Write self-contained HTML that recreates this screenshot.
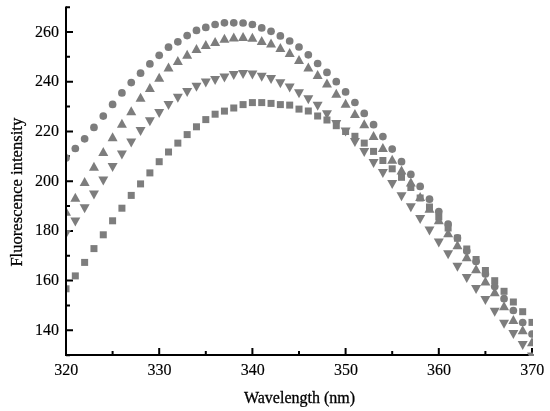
<!DOCTYPE html>
<html><head><meta charset="utf-8"><style>
html,body{margin:0;padding:0;background:#fff;}
body{width:550px;height:411px;overflow:hidden;}
svg{display:block;}
text{font-family:"Liberation Serif",serif;font-size:16px;fill:#000;stroke:#000;stroke-width:0.3px;}
text.t{stroke-width:0.15px;}
</style></head><body>
<svg width="550" height="411" viewBox="0 0 550 411">
<rect width="550" height="411" fill="#fff"/>
<defs><clipPath id="cp"><rect x="67" y="0" width="466" height="356"/></clipPath></defs>
<path d="M65 355H533.5" stroke="#000" stroke-width="2" fill="none"/>
<path d="M66 355.18H70M66 330.32H73M66 305.46H70M66 280.6H73M66 255.74H70M66 230.88H73M66 206.02H70M66 181.16H73M66 156.3H70M66 131.44H73M66 106.58H70M66 81.72H73M66 56.86H70M66 32H73M66 7.14H70M66 355V348M112.6 355V351M159.2 355V348M205.8 355V351M252.4 355V348M299 355V351M345.6 355V348M392.2 355V351M438.8 355V348M485.4 355V351M532 355V348" stroke="#000" stroke-width="2" fill="none"/>
<g clip-path="url(#cp)" fill="#7d7d7d">
<rect x="62.5" y="285.3" width="7" height="7"/>
<rect x="71.82" y="272.4" width="7" height="7"/>
<rect x="81.14" y="258.9" width="7" height="7"/>
<rect x="90.46" y="245.1" width="7" height="7"/>
<rect x="99.78" y="231.3" width="7" height="7"/>
<rect x="109.1" y="217.3" width="7" height="7"/>
<rect x="118.42" y="204.7" width="7" height="7"/>
<rect x="127.74" y="191.9" width="7" height="7"/>
<rect x="137.06" y="180.4" width="7" height="7"/>
<rect x="146.38" y="169.4" width="7" height="7"/>
<rect x="155.7" y="158.2" width="7" height="7"/>
<rect x="165.02" y="148.5" width="7" height="7"/>
<rect x="174.34" y="139.6" width="7" height="7"/>
<rect x="183.66" y="131.1" width="7" height="7"/>
<rect x="192.98" y="123.3" width="7" height="7"/>
<rect x="202.3" y="116.1" width="7" height="7"/>
<rect x="211.62" y="110.7" width="7" height="7"/>
<rect x="220.94" y="107.6" width="7" height="7"/>
<rect x="230.26" y="104.5" width="7" height="7"/>
<rect x="239.58" y="101.1" width="7" height="7"/>
<rect x="248.9" y="99.1" width="7" height="7"/>
<rect x="258.22" y="99.1" width="7" height="7"/>
<rect x="267.54" y="99.9" width="7" height="7"/>
<rect x="276.86" y="101.1" width="7" height="7"/>
<rect x="286.18" y="101.6" width="7" height="7"/>
<rect x="295.5" y="105.6" width="7" height="7"/>
<rect x="304.82" y="107.5" width="7" height="7"/>
<rect x="314.14" y="112.5" width="7" height="7"/>
<rect x="323.46" y="116.5" width="7" height="7"/>
<rect x="332.78" y="122.2" width="7" height="7"/>
<rect x="342.1" y="128" width="7" height="7"/>
<rect x="351.42" y="132.8" width="7" height="7"/>
<rect x="360.74" y="139.6" width="7" height="7"/>
<rect x="370.06" y="147.9" width="7" height="7"/>
<rect x="379.38" y="157" width="7" height="7"/>
<rect x="388.7" y="165.3" width="7" height="7"/>
<rect x="398.02" y="173.8" width="7" height="7"/>
<rect x="407.34" y="184" width="7" height="7"/>
<rect x="416.66" y="194.5" width="7" height="7"/>
<rect x="425.98" y="203.5" width="7" height="7"/>
<rect x="435.3" y="213.5" width="7" height="7"/>
<rect x="444.62" y="224.5" width="7" height="7"/>
<rect x="453.94" y="234.7" width="7" height="7"/>
<rect x="463.26" y="245.5" width="7" height="7"/>
<rect x="472.58" y="256" width="7" height="7"/>
<rect x="481.9" y="267" width="7" height="7"/>
<rect x="491.22" y="277.2" width="7" height="7"/>
<rect x="500.54" y="287.8" width="7" height="7"/>
<rect x="509.86" y="298.5" width="7" height="7"/>
<rect x="519.18" y="308.2" width="7" height="7"/>
<rect x="528.5" y="318.9" width="7" height="7"/>
<path d="M61 229.9H71L66 238.9Z"/>
<path d="M70.32 217.6H80.32L75.32 226.6Z"/>
<path d="M79.64 204.2H89.64L84.64 213.2Z"/>
<path d="M88.96 190.4H98.96L93.96 199.4Z"/>
<path d="M98.28 176.6H108.28L103.28 185.6Z"/>
<path d="M107.6 163.1H117.6L112.6 172.1Z"/>
<path d="M116.92 150.5H126.92L121.92 159.5Z"/>
<path d="M126.24 138.4H136.24L131.24 147.4Z"/>
<path d="M135.56 126.9H145.56L140.56 135.9Z"/>
<path d="M144.88 117.2H154.88L149.88 126.2Z"/>
<path d="M154.2 109H164.2L159.2 118Z"/>
<path d="M163.52 101H173.52L168.52 110Z"/>
<path d="M172.84 93.7H182.84L177.84 102.7Z"/>
<path d="M182.16 87.9H192.16L187.16 96.9Z"/>
<path d="M191.48 82.7H201.48L196.48 91.7Z"/>
<path d="M200.8 78.6H210.8L205.8 87.6Z"/>
<path d="M210.12 75.9H220.12L215.12 84.9Z"/>
<path d="M219.44 73.5H229.44L224.44 82.5Z"/>
<path d="M228.76 71H238.76L233.76 80Z"/>
<path d="M238.08 69.9H248.08L243.08 78.9Z"/>
<path d="M247.4 70.6H257.4L252.4 79.6Z"/>
<path d="M256.72 72.8H266.72L261.72 81.8Z"/>
<path d="M266.04 75H276.04L271.04 84Z"/>
<path d="M275.36 79.3H285.36L280.36 88.3Z"/>
<path d="M284.68 83.5H294.68L289.68 92.5Z"/>
<path d="M294 89.2H304L299 98.2Z"/>
<path d="M303.32 95.3H313.32L308.32 104.3Z"/>
<path d="M312.64 101.8H322.64L317.64 110.8Z"/>
<path d="M321.96 110.2H331.96L326.96 119.2Z"/>
<path d="M331.28 120.1H341.28L336.28 129.1Z"/>
<path d="M340.6 127.6H350.6L345.6 136.6Z"/>
<path d="M349.92 137.9H359.92L354.92 146.9Z"/>
<path d="M359.24 147.9H369.24L364.24 156.9Z"/>
<path d="M368.56 158.9H378.56L373.56 167.9Z"/>
<path d="M377.88 169H387.88L382.88 178Z"/>
<path d="M387.2 180.1H397.2L392.2 189.1Z"/>
<path d="M396.52 192.3H406.52L401.52 201.3Z"/>
<path d="M405.84 203.2H415.84L410.84 212.2Z"/>
<path d="M415.16 214.9H425.16L420.16 223.9Z"/>
<path d="M424.48 226.4H434.48L429.48 235.4Z"/>
<path d="M433.8 238.4H443.8L438.8 247.4Z"/>
<path d="M443.12 250.2H453.12L448.12 259.2Z"/>
<path d="M452.44 262.7H462.44L457.44 271.7Z"/>
<path d="M461.76 274.1H471.76L466.76 283.1Z"/>
<path d="M471.08 285.1H481.08L476.08 294.1Z"/>
<path d="M480.4 296.1H490.4L485.4 305.1Z"/>
<path d="M489.72 307.7H499.72L494.72 316.7Z"/>
<path d="M499.04 319.7H509.04L504.04 328.7Z"/>
<path d="M508.36 329.9H518.36L513.36 338.9Z"/>
<path d="M517.68 341H527.68L522.68 350Z"/>
<path d="M527 352.5H537L532 361.5Z"/>
<path d="M61 215.8H71L66 206.8Z"/>
<path d="M70.32 201.8H80.32L75.32 192.8Z"/>
<path d="M79.64 185.9H89.64L84.64 176.9Z"/>
<path d="M88.96 170.7H98.96L93.96 161.7Z"/>
<path d="M98.28 156.1H108.28L103.28 147.1Z"/>
<path d="M107.6 141.3H117.6L112.6 132.3Z"/>
<path d="M116.92 127.8H126.92L121.92 118.8Z"/>
<path d="M126.24 115.3H136.24L131.24 106.3Z"/>
<path d="M135.56 101.8H145.56L140.56 92.8Z"/>
<path d="M144.88 91.9H154.88L149.88 82.9Z"/>
<path d="M154.2 81.7H164.2L159.2 72.7Z"/>
<path d="M163.52 71.5H173.52L168.52 62.5Z"/>
<path d="M172.84 65H182.84L177.84 56Z"/>
<path d="M182.16 58.8H192.16L187.16 49.8Z"/>
<path d="M191.48 53H201.48L196.48 44Z"/>
<path d="M200.8 49H210.8L205.8 40Z"/>
<path d="M210.12 46.1H220.12L215.12 37.1Z"/>
<path d="M219.44 42.8H229.44L224.44 33.8Z"/>
<path d="M228.76 41.5H238.76L233.76 32.5Z"/>
<path d="M238.08 41.1H248.08L243.08 32.1Z"/>
<path d="M247.4 41.8H257.4L252.4 32.8Z"/>
<path d="M256.72 44.9H266.72L261.72 35.9Z"/>
<path d="M266.04 47.4H276.04L271.04 38.4Z"/>
<path d="M275.36 52H285.36L280.36 43Z"/>
<path d="M284.68 57.1H294.68L289.68 48.1Z"/>
<path d="M294 63.9H304L299 54.9Z"/>
<path d="M303.32 71.4H313.32L308.32 62.4Z"/>
<path d="M312.64 79.1H322.64L317.64 70.1Z"/>
<path d="M321.96 87.6H331.96L326.96 78.6Z"/>
<path d="M331.28 97.7H341.28L336.28 88.7Z"/>
<path d="M340.6 107.7H350.6L345.6 98.7Z"/>
<path d="M349.92 118H359.92L354.92 109Z"/>
<path d="M359.24 128.2H369.24L364.24 119.2Z"/>
<path d="M368.56 140H378.56L373.56 131Z"/>
<path d="M377.88 151.9H387.88L382.88 142.9Z"/>
<path d="M387.2 163.7H397.2L392.2 154.7Z"/>
<path d="M396.52 174.6H406.52L401.52 165.6Z"/>
<path d="M405.84 186.6H415.84L410.84 177.6Z"/>
<path d="M415.16 200.9H425.16L420.16 191.9Z"/>
<path d="M424.48 212.8H434.48L429.48 203.8Z"/>
<path d="M433.8 224.2H443.8L438.8 215.2Z"/>
<path d="M443.12 237.2H453.12L448.12 228.2Z"/>
<path d="M452.44 249.2H462.44L457.44 240.2Z"/>
<path d="M461.76 261.2H471.76L466.76 252.2Z"/>
<path d="M471.08 273.2H481.08L476.08 264.2Z"/>
<path d="M480.4 285.5H490.4L485.4 276.5Z"/>
<path d="M489.72 296.2H499.72L494.72 287.2Z"/>
<path d="M499.04 310.2H509.04L504.04 301.2Z"/>
<path d="M508.36 323.9H518.36L513.36 314.9Z"/>
<path d="M517.68 334.2H527.68L522.68 325.2Z"/>
<path d="M527 346.2H537L532 337.2Z"/>
<ellipse cx="66" cy="157.9" rx="3.85" ry="3.85"/>
<ellipse cx="75.32" cy="148.5" rx="3.85" ry="3.85"/>
<ellipse cx="84.64" cy="138.8" rx="3.85" ry="3.85"/>
<ellipse cx="93.96" cy="127.4" rx="3.85" ry="3.85"/>
<ellipse cx="103.28" cy="116.1" rx="3.85" ry="3.85"/>
<ellipse cx="112.6" cy="104.4" rx="3.85" ry="3.85"/>
<ellipse cx="121.92" cy="92.9" rx="3.85" ry="3.85"/>
<ellipse cx="131.24" cy="82.6" rx="3.85" ry="3.85"/>
<ellipse cx="140.56" cy="73.2" rx="3.85" ry="3.85"/>
<ellipse cx="149.88" cy="63.9" rx="3.85" ry="3.85"/>
<ellipse cx="159.2" cy="55.3" rx="3.85" ry="3.85"/>
<ellipse cx="168.52" cy="47.2" rx="3.85" ry="3.85"/>
<ellipse cx="177.84" cy="41.8" rx="3.85" ry="3.85"/>
<ellipse cx="187.16" cy="35.6" rx="3.85" ry="3.85"/>
<ellipse cx="196.48" cy="30.4" rx="3.85" ry="3.85"/>
<ellipse cx="205.8" cy="27.4" rx="3.85" ry="3.85"/>
<ellipse cx="215.12" cy="24.5" rx="3.85" ry="3.85"/>
<ellipse cx="224.44" cy="22.8" rx="3.85" ry="3.85"/>
<ellipse cx="233.76" cy="22.8" rx="3.85" ry="3.85"/>
<ellipse cx="243.08" cy="23" rx="3.85" ry="3.85"/>
<ellipse cx="252.4" cy="24.5" rx="3.85" ry="3.85"/>
<ellipse cx="261.72" cy="27.9" rx="3.85" ry="3.85"/>
<ellipse cx="271.04" cy="31.3" rx="3.85" ry="3.85"/>
<ellipse cx="280.36" cy="35.9" rx="3.85" ry="3.85"/>
<ellipse cx="289.68" cy="41" rx="3.85" ry="3.85"/>
<ellipse cx="299" cy="47" rx="3.85" ry="3.85"/>
<ellipse cx="308.32" cy="54.8" rx="3.85" ry="3.85"/>
<ellipse cx="317.64" cy="63.5" rx="3.85" ry="3.85"/>
<ellipse cx="326.96" cy="72.4" rx="3.85" ry="3.85"/>
<ellipse cx="336.28" cy="81.7" rx="3.85" ry="3.85"/>
<ellipse cx="345.6" cy="91.9" rx="3.85" ry="3.85"/>
<ellipse cx="354.92" cy="102.5" rx="3.85" ry="3.85"/>
<ellipse cx="364.24" cy="113.4" rx="3.85" ry="3.85"/>
<ellipse cx="373.56" cy="124.7" rx="3.85" ry="3.85"/>
<ellipse cx="382.88" cy="136.6" rx="3.85" ry="3.85"/>
<ellipse cx="392.2" cy="149.1" rx="3.85" ry="3.85"/>
<ellipse cx="401.52" cy="161.7" rx="3.85" ry="3.85"/>
<ellipse cx="410.84" cy="174.4" rx="3.85" ry="3.85"/>
<ellipse cx="420.16" cy="186.4" rx="3.85" ry="3.85"/>
<ellipse cx="429.48" cy="199.2" rx="3.85" ry="3.85"/>
<ellipse cx="438.8" cy="211.5" rx="3.85" ry="3.85"/>
<ellipse cx="448.12" cy="224" rx="3.85" ry="3.85"/>
<ellipse cx="457.44" cy="237.9" rx="3.85" ry="3.85"/>
<ellipse cx="466.76" cy="251" rx="3.85" ry="3.85"/>
<ellipse cx="476.08" cy="261.5" rx="3.85" ry="3.85"/>
<ellipse cx="485.4" cy="274" rx="3.85" ry="3.85"/>
<ellipse cx="494.72" cy="286.5" rx="3.85" ry="3.85"/>
<ellipse cx="504.04" cy="298.7" rx="3.85" ry="3.85"/>
<ellipse cx="513.36" cy="310.5" rx="3.85" ry="3.85"/>
<ellipse cx="522.68" cy="322.5" rx="3.85" ry="3.85"/>
<ellipse cx="532" cy="334" rx="3.85" ry="3.85"/>
</g>
<path d="M66 6.5V356" stroke="#000" stroke-width="2" fill="none"/>
<g style="filter:grayscale(1)">
<text x="59" y="334.82" text-anchor="end" class="t">140</text>
<text x="59" y="285.1" text-anchor="end" class="t">160</text>
<text x="59" y="235.38" text-anchor="end" class="t">180</text>
<text x="59" y="185.66" text-anchor="end" class="t">200</text>
<text x="59" y="135.94" text-anchor="end" class="t">220</text>
<text x="59" y="86.22" text-anchor="end" class="t">240</text>
<text x="59" y="36.5" text-anchor="end" class="t">260</text>
<text x="66.3" y="375" text-anchor="middle" class="t">320</text>
<text x="159.5" y="375" text-anchor="middle" class="t">330</text>
<text x="252.7" y="375" text-anchor="middle" class="t">340</text>
<text x="345.9" y="375" text-anchor="middle" class="t">350</text>
<text x="439.1" y="375" text-anchor="middle" class="t">360</text>
<text x="532.3" y="375" text-anchor="middle" class="t">370</text>
<text x="299.5" y="402.5" text-anchor="middle">Wavelength (nm)</text>
<text transform="translate(22.2 192.2) rotate(-90)" text-anchor="middle" style="font-size:16.6px">Fluorescence intensity</text>
</g>
</svg>
</body></html>
